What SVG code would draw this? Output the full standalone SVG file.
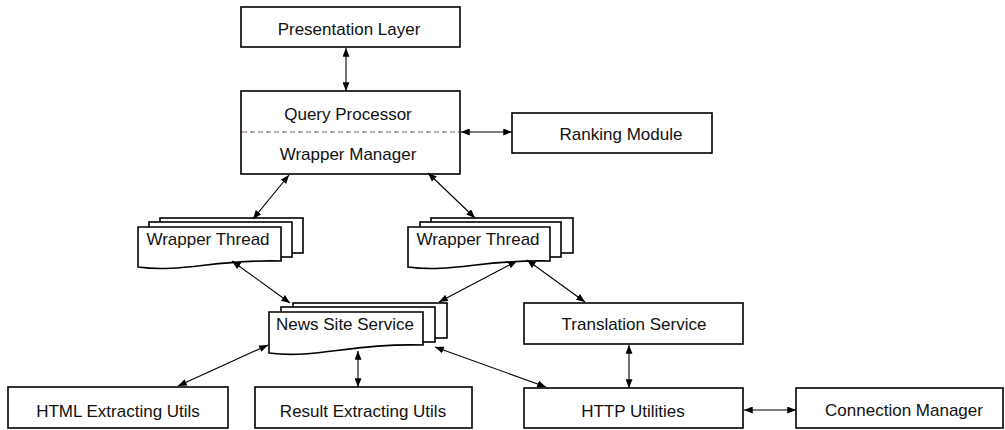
<svg xmlns="http://www.w3.org/2000/svg" width="1005" height="430" viewBox="0 0 1005 430">
  <style>
    .box { fill: #ffffff; stroke: #000000; stroke-width: 1.6; }
    .lbl { font-family: "Liberation Sans", Arial, sans-serif; font-size: 17px; fill: #111111; text-anchor: middle; }
    .con { stroke: #000000; stroke-width: 1.1; fill: none; marker-start: url(#ah); marker-end: url(#ah); }
  </style>
  <defs>
    <marker id="ah" viewBox="0 0 10 8" refX="10" refY="4" markerWidth="9" markerHeight="7" markerUnits="userSpaceOnUse" orient="auto-start-reverse">
      <path d="M0,0 L10,4 L0,8 z" fill="#000000"/>
    </marker>
  </defs>
  <rect x="0" y="0" width="1005" height="430" fill="#ffffff"/>

  <g id="presentation-layer">
    <rect class="box" x="241" y="7" width="219" height="40"/>
    <text class="lbl" x="349" y="35">Presentation Layer</text>
  </g>

  <g id="query-processor">
    <rect class="box" x="241" y="91" width="219" height="83"/>
    <line x1="242" y1="132" x2="459" y2="132" stroke="#8a5f9a" stroke-width="1.2" stroke-dasharray="5 3"/>
    <line x1="242" y1="132" x2="459" y2="132" stroke="#7f9a5f" stroke-width="1.2" stroke-dasharray="3 13" stroke-dashoffset="-8"/>
    <text class="lbl" x="348" y="120">Query Processor</text>
    <text class="lbl" x="348" y="160">Wrapper Manager</text>
  </g>

  <g id="ranking-module">
    <rect class="box" x="512" y="113" width="200" height="40"/>
    <text class="lbl" x="621" y="140">Ranking Module</text>
  </g>

  <g id="wrapper-thread-left">
    <rect class="box" x="160" y="218" width="143" height="35"/>
    <rect class="box" x="149" y="222" width="143" height="35"/>
    <path class="box" d="M138,227 H281 V261 C216.6,259 180.9,273 138,267 Z"/>
    <text class="lbl" x="208" y="245">Wrapper Thread</text>
  </g>

  <g id="wrapper-thread-right">
    <rect class="box" x="431" y="218" width="142" height="35"/>
    <rect class="box" x="420" y="222" width="141" height="35"/>
    <path class="box" d="M408,227 H550 V261 C486,259 450.6,273 408,267 Z"/>
    <text class="lbl" x="478" y="245">Wrapper Thread</text>
  </g>

  <g id="news-site-service">
    <rect class="box" x="293" y="303" width="154" height="35"/>
    <rect class="box" x="281" y="307" width="154" height="35"/>
    <path class="box" d="M269,312 H423 V345 C353.7,343 315.2,359 269,353 Z"/>
    <text class="lbl" x="345" y="330">News Site Service</text>
  </g>

  <g id="translation-service">
    <rect class="box" x="524" y="303" width="219" height="41"/>
    <text class="lbl" x="634" y="330">Translation Service</text>
  </g>

  <g id="html-extracting-utils">
    <rect class="box" x="8" y="387" width="220" height="41"/>
    <text class="lbl" x="118" y="417">HTML Extracting Utils</text>
  </g>

  <g id="result-extracting-utils">
    <rect class="box" x="255" y="387" width="217" height="41"/>
    <text class="lbl" x="363" y="417">Result Extracting Utils</text>
  </g>

  <g id="http-utilities">
    <rect class="box" x="524" y="388" width="219" height="40"/>
    <text class="lbl" x="633" y="417">HTTP Utilities</text>
  </g>

  <g id="connection-manager">
    <rect class="box" x="796" y="388" width="207" height="40"/>
    <text class="lbl" x="904" y="416">Connection Manager</text>
  </g>

  <g id="connectors">
    <line class="con" x1="346" y1="48" x2="346" y2="91"/>
    <line class="con" x1="461" y1="132" x2="512" y2="132"/>
    <line class="con" x1="289" y1="175" x2="253" y2="219"/>
    <line class="con" x1="428" y1="173" x2="475" y2="218"/>
    <line class="con" x1="232" y1="261" x2="290" y2="303"/>
    <line class="con" x1="517" y1="261" x2="439" y2="302"/>
    <line class="con" x1="527" y1="260" x2="585" y2="302"/>
    <line class="con" x1="629" y1="345" x2="629" y2="388"/>
    <line class="con" x1="744" y1="410" x2="796" y2="410"/>
    <line class="con" x1="268" y1="345" x2="178" y2="386"/>
    <line class="con" x1="358" y1="351" x2="358" y2="387"/>
    <line class="con" x1="435" y1="347" x2="546" y2="387"/>
  </g>
</svg>
